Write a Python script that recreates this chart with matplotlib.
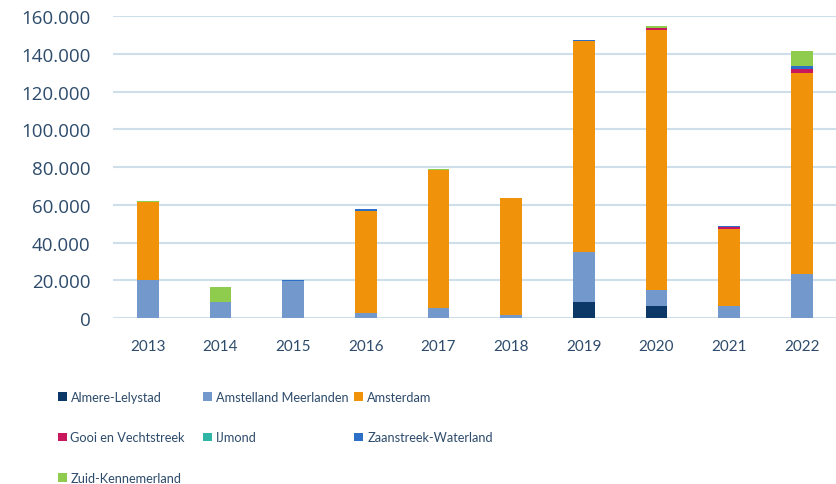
import matplotlib
matplotlib.use("Agg")
import matplotlib.pyplot as plt
import numpy as np

years = ["2013", "2014", "2015", "2016", "2017", "2018", "2019", "2020", "2021", "2022"]

# values per region, stacked bottom to top
almere_lelystad = [0, 0, 0, 0, 0, 0, 8500, 6400, 0, 0]
amstelland_meerlanden = [20100, 8300, 19600, 2650, 5300, 1500, 26500, 8400, 6600, 23300]
amsterdam = [41200, 0, 0, 54200, 73200, 62100, 111800, 137800, 40600, 106400]
gooi_vechtstreek = [0, 0, 0, 0, 0, 0, 0, 800, 800, 2300]
ijmond = [0, 0, 0, 0, 0, 0, 0, 0, 0, 0]
zaanstreek_waterland = [0, 500, 500, 900, 0, 0, 500, 400, 1000, 1400]
zuid_kennemerland = [900, 7800, 0, 0, 600, 0, 0, 900, 0, 8300]

regions = ["Almere-Lelystad", "Amstelland Meerlanden", "Amsterdam",
           "Gooi en Vechtstreek", "IJmond", "Zaanstreek-Waterland",
           "Zuid-Kennemerland"]
series = [almere_lelystad, amstelland_meerlanden, amsterdam, gooi_vechtstreek,
          ijmond, zaanstreek_waterland, zuid_kennemerland]
colors = ["#0b3866", "#7298cc", "#f0930a", "#c8175d", "#2eb5a5", "#2c6fc7", "#8fcc4e"]

label_color = "#2d4b6b"
small_font = ["Lato", "DejaVu Sans"]

fig = plt.figure(figsize=(8.36, 4.85), dpi=100)
ax = fig.add_axes([0.135, 0.342, 0.865, 0.623])

x = np.arange(len(years))
bottom = np.zeros(len(years))
handles = []
for name, vals, col in zip(regions, series, colors):
    vals = np.array(vals, dtype=float)
    b = ax.bar(x, vals, width=0.3, bottom=bottom, color=col, label=name, zorder=3)
    handles.append(b)
    bottom += vals

ax.set_xlim(-0.48, 9.47)
ax.set_ylim(0, 160000)
ax.set_yticks(np.arange(0, 160001, 20000))
ax.set_yticklabels(["0" if v == 0 else f"{v:,}".replace(",", ".") for v in range(0, 160001, 20000)],
                   family=["Open Sans", "DejaVu Sans"], fontsize=13.5, color=label_color)
ax.set_xticks(x)
ax.set_xticklabels(years, family=small_font, fontsize=11, color=label_color)
ax.tick_params(axis="both", length=0)
ax.tick_params(axis="y", pad=16)
ax.tick_params(axis="x", pad=15)
ax.yaxis.grid(True, color="#cfdfea", linewidth=1.5, zorder=0)
ax.set_axisbelow(True)
for s in ax.spines.values():
    s.set_visible(False)

# legend in three fixed-width columns, read row-wise like the original
columns = [[0, 3, 6], [1, 4], [2, 5]]
col_x = [0.069, 0.243, 0.424]
for idxs, cx in zip(columns, col_x):
    leg = fig.legend([handles[i] for i in idxs], [regions[i] for i in idxs],
                     loc="upper left", bbox_to_anchor=(cx, 0.191), ncol=1, frameon=False,
                     prop={"family": small_font, "size": 9.2},
                     handlelength=0.7, handleheight=0.7, handletextpad=0.3,
                     labelspacing=2.2, borderaxespad=0, borderpad=0)
    for t in leg.get_texts():
        t.set_color(label_color)

fig.savefig("out.png", dpi=100, facecolor="white")
